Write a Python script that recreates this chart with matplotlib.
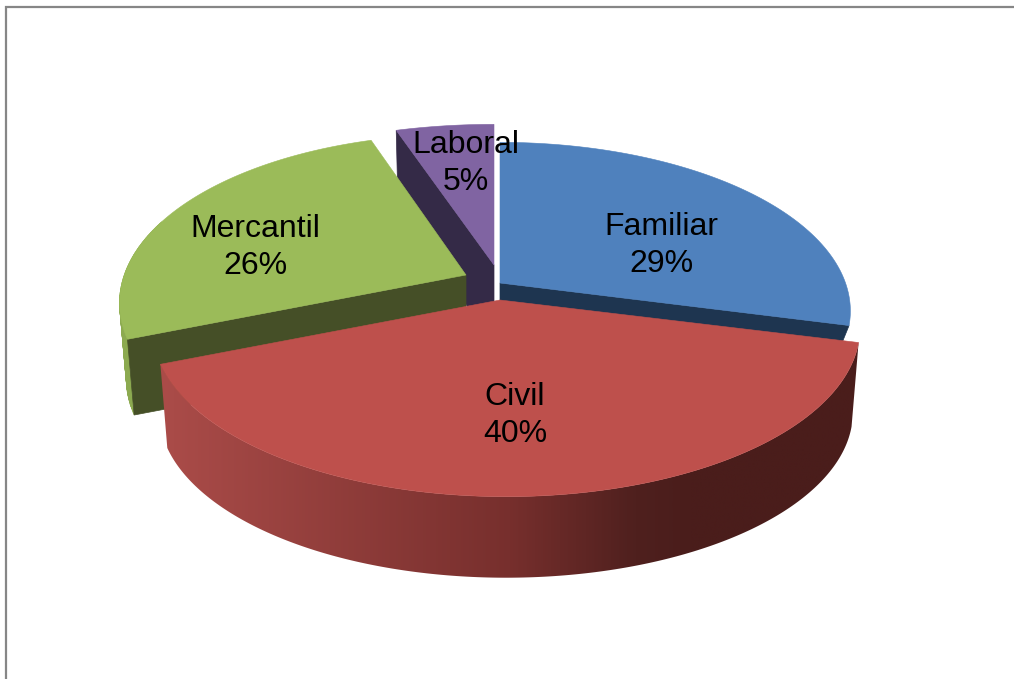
import numpy as np
import matplotlib
matplotlib.use("Agg")
import matplotlib.pyplot as plt
from matplotlib.patches import Polygon
from matplotlib.colors import LinearSegmentedColormap

categories = ["Familiar", "Civil", "Mercantil", "Laboral"]
values = [29, 40, 26, 5]
top_colors = ["#4F81BD", "#BE504C", "#9BBB59", "#8064A2"]
cut_colors = ["#1E3550", "#4A1D1B", "#454F27", "#342A47"]

# layout of the exploded perspective pie, in pixels
apex = {"Familiar": (500, 283), "Civil": (500, 300), "Mercantil": (466, 275), "Laboral": (494, 265)}
centre_x = {"Familiar": 500, "Civil": 506, "Mercantil": 461, "Laboral": 494}
x_scale = {"Familiar": 0.99, "Civil": 1.0, "Mercantil": 0.965, "Laboral": 1.05}
depth = {"Familiar": 18, "Civil": 85, "Mercantil": 77, "Laboral": 78}
label_pos = {"Familiar": (661, 245.5), "Civil": (515, 415.5), "Mercantil": (255, 247.5), "Laboral": (466, 163.5)}
B, A, K, S = 349.0, 164.0, 0.166, 0.98

plt.rcParams["font.family"] = ["Liberation Sans", "DejaVu Sans"]
fig = plt.figure(figsize=(10.14, 6.79), dpi=100, facecolor="white")
ax = fig.add_axes([0, 0, 1, 1])
ax.axis("off")

ax.plot([6, 6, 1014], [679, 7, 7], color="#868686", lw=1.6, solid_joinstyle="miter", zorder=0)


def rim(name, th, scale=1.0, dz=0.0):
    w = 1 + K * np.cos(th)
    x = centre_x[name] + x_scale[name] * scale * B * np.sin(th) / w
    y = apex[name][1] - scale * A * np.cos(th) / w + dz
    return x, y


edges = np.cumsum([0] + values) / sum(values) * 2 * np.pi
spans = {c: (edges[i], edges[i + 1]) for i, c in enumerate(categories)}
tops = dict(zip(categories, top_colors))
cuts = dict(zip(categories, cut_colors))

wall_cmap = LinearSegmentedColormap.from_list(
    "wall", [(0.0, "#AB4C49"), (0.5, "#772F2D"), (0.68, "#4F201E"), (0.76, "#4A1D1B"), (1.0, "#4A1D1B")])


def wall_outline(name, lo, hi):
    ts = np.linspace(lo, hi, 200)
    xt, yt = rim(name, ts)
    xb, yb = rim(name, ts, S, depth[name])
    return list(zip(xt, yt)) + list(zip(xb[::-1], yb[::-1]))


def draw(name, z):
    a, b = spans[name]
    d = depth[name]
    ax0, ay0 = apex[name]
    cut_th = {"Familiar": b, "Mercantil": a, "Laboral": a}.get(name)
    if cut_th is not None:
        tx, ty = rim(name, cut_th)
        bx, by = rim(name, cut_th, S, d)
        ax.add_patch(Polygon([(ax0, ay0), (tx, ty), (bx, by), (ax0, ay0 + d)],
                             closed=True, fc=cuts[name], ec=cuts[name], lw=0.5, zorder=z + 0.1))
    lo, hi = max(a, np.pi / 2 - 0.3), min(b, 3 * np.pi / 2 + 0.35)
    if name == "Mercantil":
        ts = np.linspace(lo, hi, 60)
        for t0, t1 in zip(ts[:-1], ts[1:]):
            xa, ya = rim(name, np.array([t0, t1]))
            xb, yb = rim(name, np.array([t1, t0]), S, d)
            ax.add_patch(Polygon(list(zip(xa, ya)) + list(zip(xb, yb)), closed=True,
                                 fc="#8CAA50", ec="#8CAA50", lw=0.4, zorder=z))
    if name == "Civil":
        outline = Polygon(wall_outline(name, lo, hi), closed=True, fc="none", ec="none",
                          transform=ax.transData)
        ax.add_patch(outline)
        grad = np.linspace(0, 1, 512).reshape(1, -1)
        im = ax.imshow(grad, cmap=wall_cmap, extent=(160, 860, 600, 300), aspect="auto",
                       zorder=z, interpolation="bilinear")
        im.set_clip_path(outline)
    ts = np.linspace(a, b, 160)
    x, y = rim(name, ts)
    pts = [(ax0, ay0)] + list(zip(x, y))
    ax.add_patch(Polygon(pts, closed=True, fc=tops[name], ec=tops[name], lw=0.4, zorder=z + 0.2))


draw("Laboral", 1)
draw("Mercantil", 2)
draw("Familiar", 3)
draw("Civil", 4)

for name, v in zip(categories, values):
    x, y = label_pos[name]
    ax.text(x, y, f"{name}\n{v}%", ha="center", va="center", fontsize=23, color="black",
            linespacing=1.3, zorder=10)

ax.set_xlim(0, 1014)
ax.set_ylim(679, 0)
fig.savefig("out.png", dpi=100)
